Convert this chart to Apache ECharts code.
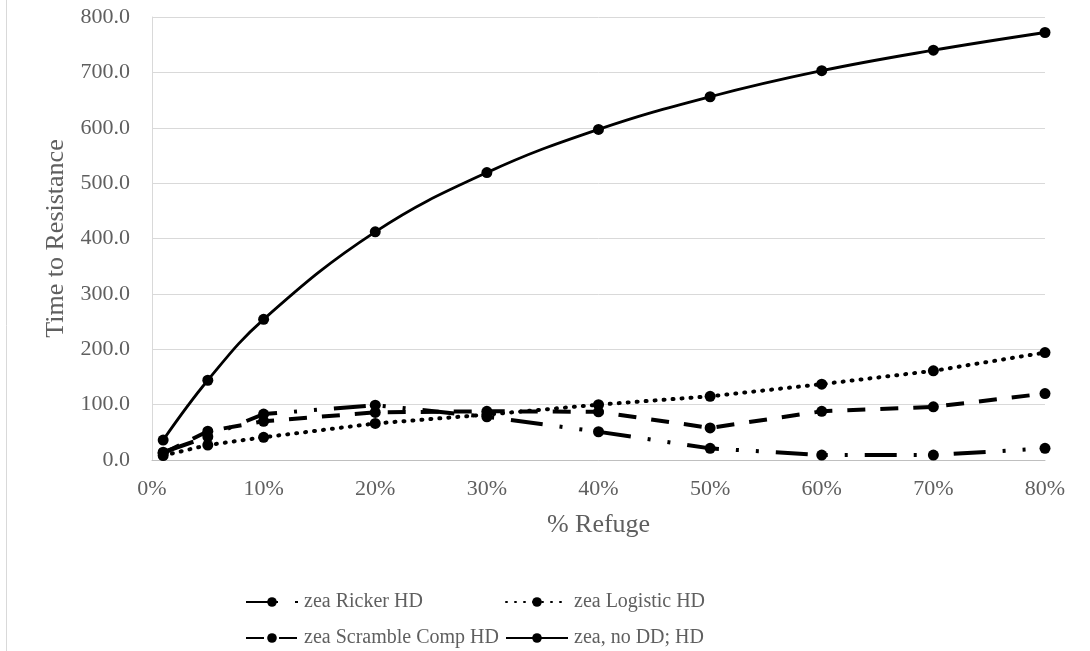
<!DOCTYPE html>
<html>
<head>
<meta charset="utf-8">
<script src="https://cdn.jsdelivr.net/npm/echarts@6/dist/echarts.min.js"></script>
<style>
  html, body { margin: 0; padding: 0; background: #ffffff; }
  #chart { width: 1090px; height: 651px; }
</style>
</head>
<body>
<div id="chart"></div>
<script>
// % refuge (x positions of each observation)
const refuge = [1, 5, 10, 20, 30, 40, 50, 60, 70, 80];

// Time to resistance for each model
const rickerHD    = [14, 42, 83, 99, 78, 51, 21, 9, 9, 21];
const logisticHD  = [8, 27, 41, 66, 82, 100, 115, 137, 161, 194];
const scrambleHD  = [12, 52, 70, 86, 88, 87, 58, 88, 96, 120];
const noDDHD      = [36, 144, 254, 412, 519, 597, 656, 703, 740, 772];

const seriesNames = ['zea Ricker HD', 'zea Logistic HD', 'zea Scramble Comp HD', 'zea, no DD; HD'];

const pairs = ys => refuge.map((x, i) => [x, ys[i]]);

const serif = '"Liberation Serif", "Times New Roman", serif';
const labelGray = '#5f5f5f';

const chart = echarts.init(document.getElementById('chart'), null, { renderer: 'canvas' });

const legendBase = {
  orient: 'horizontal',
  itemHeight: 12,
  itemGap: 0,
  textStyle: { fontFamily: serif, fontSize: 20, color: labelGray, padding: [0, 0, 0, 1] },
  selectedMode: false
};

chart.setOption({
  animation: false,
  backgroundColor: '#ffffff',
  grid: { left: 152, right: 45, top: 17, bottom: 191, containLabel: false },
  xAxis: {
    type: 'value',
    min: 0,
    max: 80,
    interval: 10,
    name: '% Refuge',
    nameLocation: 'middle',
    nameGap: 52,
    nameTextStyle: { fontFamily: serif, fontSize: 26, color: labelGray },
    axisLine: { show: true, lineStyle: { color: '#bfbfbf', width: 1 } },
    axisTick: { show: false },
    splitLine: { show: false },
    axisLabel: {
      margin: 18,
      fontFamily: serif,
      fontSize: 22,
      color: labelGray,
      formatter: '{value}%'
    }
  },
  yAxis: {
    type: 'value',
    min: 0,
    max: 800,
    interval: 100,
    name: 'Time to Resistance',
    nameLocation: 'middle',
    nameGap: 82,
    nameTextStyle: { fontFamily: serif, fontSize: 26, color: labelGray },
    axisLine: { show: true, lineStyle: { color: '#d9d9d9', width: 1 } },
    axisTick: { show: false },
    splitLine: { show: true, lineStyle: { color: '#d9d9d9', width: 1 } },
    axisLabel: {
      margin: 22,
      fontFamily: serif,
      fontSize: 22,
      color: labelGray,
      formatter: v => v.toFixed(1)
    }
  },
  legend: [
    Object.assign({}, legendBase, { data: [seriesNames[0]], left: 240, top: 587, itemWidth: 52 }),
    Object.assign({}, legendBase, { data: [seriesNames[1]], left: 500, top: 587, itemWidth: 62 }),
    Object.assign({}, legendBase, { data: [seriesNames[2]], left: 240, top: 623, itemWidth: 52 }),
    Object.assign({}, legendBase, { data: [seriesNames[3]], left: 500, top: 623, itemWidth: 62 })
  ],
  graphic: [
    {
      type: 'line',
      shape: { x1: 6.5, y1: 0, x2: 6.5, y2: 651 },
      style: { stroke: '#d9d9d9', lineWidth: 1 },
      silent: true
    }
  ],
  series: [
    {
      name: seriesNames[0],
      type: 'line',
      data: pairs(rickerHD),
      symbol: 'circle',
      symbolSize: 11,
      itemStyle: { color: '#000000' },
      lineStyle: { color: '#000000', width: 4, type: [32, 17, 3, 17, 3, 17], cap: 'butt' },
      z: 3
    },
    {
      name: seriesNames[1],
      type: 'line',
      data: pairs(logisticHD),
      symbol: 'circle',
      symbolSize: 11,
      itemStyle: { color: '#000000' },
      lineStyle: { color: '#000000', width: 4, type: [1, 8], cap: 'round' },
      z: 3
    },
    {
      name: seriesNames[2],
      type: 'line',
      data: pairs(scrambleHD),
      symbol: 'circle',
      symbolSize: 11,
      itemStyle: { color: '#000000' },
      lineStyle: { color: '#000000', width: 4, type: [18, 15], cap: 'butt' },
      z: 3
    },
    {
      name: seriesNames[3],
      type: 'line',
      data: pairs(noDDHD),
      smooth: 0.4,
      symbol: 'circle',
      symbolSize: 11,
      itemStyle: { color: '#000000' },
      lineStyle: { color: '#000000', width: 2.8, type: 'solid' },
      z: 3
    }
  ]
});
</script>
</body>
</html>
